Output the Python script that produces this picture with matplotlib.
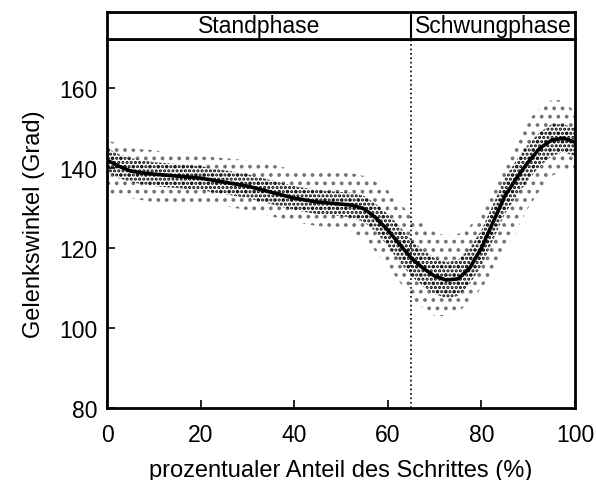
import numpy as np
import matplotlib.pyplot as plt

plt.rcParams['font.family'] = ['Liberation Sans', 'DejaVu Sans']
plt.rcParams['hatch.linewidth'] = 1.5
plt.rcParams['hatch.color'] = 'black'

# Daten
prozent = [0, 2.5, 5, 7.5, 10, 15, 20, 25, 30, 35, 40, 45, 50, 52.5, 55, 57.5, 60, 62.5, 65, 67.5, 70, 72.5, 75, 77.5,
           80, 82.5, 85, 87.5, 90, 92.5, 95, 97.5, 100]
mittelwert = [142, 140.5, 139.3, 138.8, 138.5, 138, 137.5, 136.5, 135.5, 134, 132.5, 131.5, 131, 130.7, 129.8, 127.5,
              124.5, 121, 117.5, 115, 113, 112, 112.3, 115, 120, 126.5, 133, 137.5, 141.5, 145, 147, 147.5, 146.5]
# Streuung der Einzelwerte: aeussere und innere Grenzen
obere_grenze = [147, 146, 145, 144.7, 144.5, 143.5, 143, 142.5, 142, 141, 139.5, 139, 139, 138.7, 138, 136.5,
                134.5, 131.5, 128, 126, 124, 123, 123.5, 125.5, 129, 135, 141, 146.5, 152, 155, 157, 157, 154]
untere_grenze = [134, 133, 132.5, 132, 131.5, 131, 131, 130.5, 129.5, 128, 126.5, 125.5, 125, 124, 122, 119,
                 115.5, 111.5, 107.5, 105, 103, 103, 104, 106.5, 110, 114, 119, 124.5, 130, 134.5, 138, 139.5, 140]
obere_dicht = [145, 143.5, 142.5, 142, 141.5, 141, 140.5, 139.5, 138.5, 137, 135.5, 134.5, 134, 133.8, 133, 131,
               128.5, 125.5, 122, 119.5, 117.5, 116.5, 117, 120, 124.5, 131, 137.5, 142, 146, 149, 151, 151, 150]
untere_dicht = [139, 137.5, 136.5, 136, 135.5, 135, 134.5, 133.5, 132.5, 131, 129.5, 128.5, 128, 127.5, 126.5, 124,
                120.5, 116.5, 113, 110.5, 108.5, 107.5, 108, 111, 115.5, 122, 128.5, 133, 137, 140.5, 143, 144, 143]

phasen = ['Standphase', 'Schwungphase']
phasen_grenze = 65

fig = plt.figure(figsize=(5.96, 4.81), dpi=100)
ax = fig.add_axes([107/596, 72/481, 468/596, 369/481])
kopf = fig.add_axes([107/596, 441/481, 468/596, 27/481])

# Punktwolke als gepunktete Flaechen
ax.fill_between(prozent, untere_grenze, obere_grenze, facecolor='none', edgecolor='0.45',
                hatch='..', linewidth=0)
ax.fill_between(prozent, untere_dicht, obere_dicht, facecolor='none', edgecolor='black',
                hatch='....', linewidth=0)
ax.plot(prozent, mittelwert, color='black', linewidth=2.6)
ax.axvline(phasen_grenze, color='black', linestyle=':', linewidth=1.2)

ax.set_xlim(0, 100)
ax.set_ylim(80, 172.3)
ax.set_xticks([0, 20, 40, 60, 80, 100])
ax.set_yticks([80, 100, 120, 140, 160])
ax.tick_params(direction='in', length=6, width=1.2, labelsize=16.5, pad=7)
ax.tick_params(axis='x', pad=11)
for s in ax.spines.values():
    s.set_linewidth(2)
ax.set_xlabel('prozentualer Anteil des Schrittes (%)', fontsize=17, labelpad=9)
ax.set_ylabel('Gelenkswinkel (Grad)', fontsize=17, labelpad=10)

# Kopfzeile mit den Phasen
kopf.set_xlim(0, 100)
kopf.set_ylim(0, 1)
kopf.set_xticks([])
kopf.set_yticks([])
for s in kopf.spines.values():
    s.set_linewidth(2)
kopf.axvline(phasen_grenze, color='black', linewidth=1.5)
kopf.text(phasen_grenze / 2, 0.5, phasen[0], ha='center', va='center', fontsize=16.5)
kopf.text((phasen_grenze + 100) / 2, 0.5, phasen[1], ha='center', va='center', fontsize=16.5)

fig.savefig('out.png', dpi=100)
